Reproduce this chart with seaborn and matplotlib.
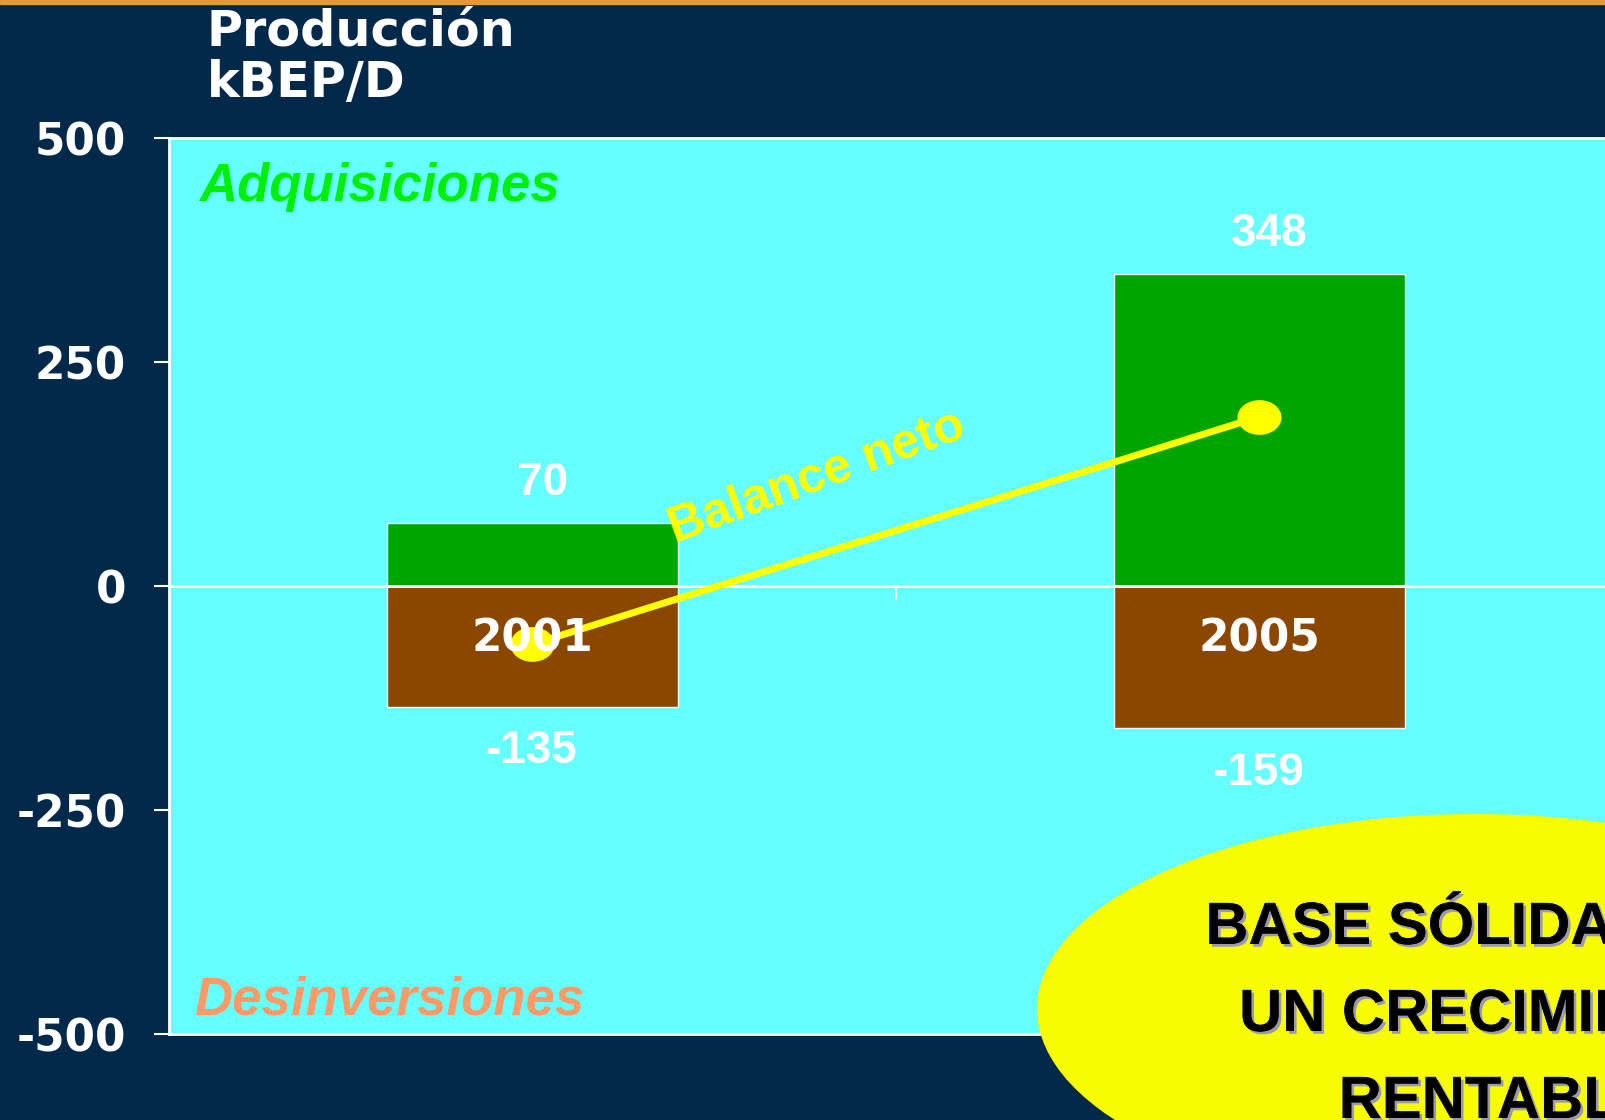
import numpy as np
import matplotlib
matplotlib.use("Agg")
import matplotlib.pyplot as plt
import matplotlib.patheffects as pe
from matplotlib.markers import MarkerStyle
from matplotlib.patches import Ellipse, Rectangle
from matplotlib.transforms import Affine2D
import seaborn as sns

# data
years = ["2001", "2005"]
adquisiciones = [70, 348]
desinversiones = [-135, -159]
yticks = [-500, -250, 0, 250, 500]
callout_lines = ["BASE SÓLIDA PARA", "UN CRECIMIENTO", "RENTABLE"]
net = [a + d for a, d in zip(adquisiciones, desinversiones)]

navy = "#02284A"
cyan = "#66FFFF"
green = "#00A500"
brown = "#8B4700"
yellow = "#FFFF00"

fig = plt.figure(figsize=(16.06, 11.2), dpi=100, facecolor=navy)
ax = fig.add_axes([169 / 1606, 1 - 1034 / 1120, 1454 / 1606, 896 / 1120])
ax.set_facecolor(cyan)

sns.barplot(x=years, y=adquisiciones, color=green, saturation=1, width=0.4,
            edgecolor="#E8FFFF", linewidth=1, ax=ax)
sns.barplot(x=years, y=desinversiones, color=brown, saturation=1, width=0.4,
            edgecolor="#E8FFFF", linewidth=1, ax=ax)

xpos = np.arange(len(years))
dot = MarkerStyle("o", transform=Affine2D().scale(1.27, 1.0))
ax.plot(xpos, net, color=yellow, linewidth=5, marker=dot, markersize=25,
        markeredgewidth=0, zorder=4, solid_capstyle="butt")

lab_font = dict(family="Liberation Sans", weight="bold", color="white", fontsize=33)
for i, v in enumerate(adquisiciones):
    ax.annotate(f"{v}", (i, v), xytext=(7, 29), textcoords="offset points",
                ha="center", va="center", **lab_font, zorder=5)
for i, v in enumerate(desinversiones):
    ax.annotate(f"{v}", (i, v), xytext=(-1, -32), textcoords="offset points",
                ha="center", va="center", **lab_font, zorder=5)
for i, y in enumerate(years):
    ax.annotate(y, (i, 0), xytext=(0, -38), textcoords="offset points",
                ha="center", va="center", family="DejaVu Sans", weight="bold",
                color="white", fontsize=31.5, zorder=6)

ax.text(0.392, 121, "Balance neto", rotation=20, rotation_mode="anchor",
        ha="center", va="center", color=yellow, fontsize=36,
        family="Liberation Sans", weight="bold", zorder=5)
ax.text(-0.459, 445, "Adquisiciones", ha="left", va="center", color="#00F000",
        fontsize=38, family="Liberation Sans", weight="bold", style="italic")
ax.text(-0.466, -463, "Desinversiones", ha="left", va="center", color="#FF9966",
        fontsize=38, family="Liberation Sans", weight="bold", style="italic")

ax.set_xlim(-0.5, 1.5)
ax.set_ylim(-500, 500)
ax.set_yticks(yticks)
ax.set_yticklabels([str(t) for t in yticks], family="DejaVu Sans",
                   weight="bold", fontsize=31.5, color="white")
ax.set_xticks([0.5])
ax.set_xticklabels([""])
ax.set_xlabel("")
ax.set_ylabel("")
ax.tick_params(axis="y", direction="out", length=11, width=1.5,
               color="white", pad=20)
ax.tick_params(axis="x", direction="out", length=10, width=1.5, color="white")
for s in ax.spines.values():
    s.set_color("white")
    s.set_linewidth(2)
ax.spines["bottom"].set_position(("data", 0))
ax.axhline(-500, color="white", linewidth=2, clip_on=False, zorder=3)

# title
tfont = dict(family="DejaVu Sans", weight="bold", color="white", fontsize=35.5)
fig.text(207 / 1606, 1 - 46 / 1120, "Producción", ha="left", va="baseline", **tfont)
fig.text(207 / 1606, 1 - 97 / 1120, "kBEP/D", ha="left", va="baseline", **tfont)

# top orange rule
fig.add_artist(Rectangle((0, 1 - 4 / 1120), 1, 4 / 1120, transform=fig.transFigure,
                         color="#E39A3A", zorder=10))

# callout ellipse
fig.add_artist(Ellipse((1475 / 1606, 1 - 1009 / 1120), 876 / 1606, 390 / 1120,
                       transform=fig.transFigure, facecolor="#F8FC00",
                       edgecolor="none", zorder=10))
shadow = [pe.withSimplePatchShadow(offset=(2, -2), shadow_rgbFace="#9A9AA8", alpha=1),
          pe.Normal()]
for k, line in enumerate(callout_lines):
    fig.text(1499 / 1606, 1 - (944 + 87 * k) / 1120, line, ha="center", va="baseline",
             fontsize=43, family="Liberation Sans", weight="bold", color="black",
             zorder=11, path_effects=shadow)

fig.savefig("out.png", dpi=100, facecolor=navy)
